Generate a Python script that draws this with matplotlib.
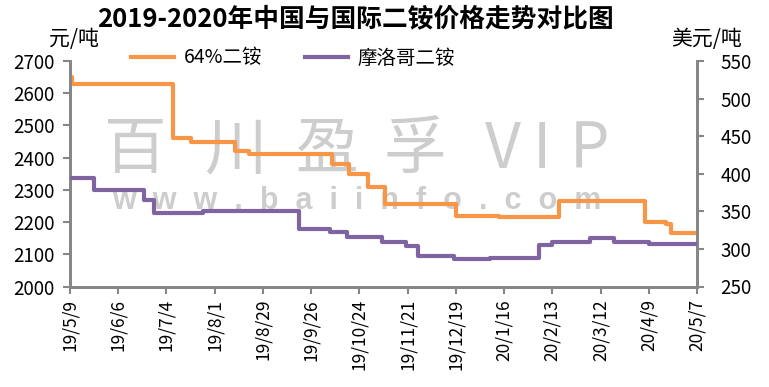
import datetime as dt
import matplotlib
matplotlib.use('Agg')
import matplotlib.pyplot as plt
from matplotlib.lines import Line2D

plt.rcParams['font.family'] = ['Noto Sans CJK SC', 'DejaVu Sans']

# 64%二铵 (元/吨) - step changes
dap_cn_dates = ['2019-05-09', '2019-05-10', '2019-07-08', '2019-07-18', '2019-08-13',
                '2019-08-21', '2019-10-08', '2019-10-18', '2019-10-29', '2019-11-08',
                '2019-12-19', '2020-01-13', '2020-02-17', '2020-04-07', '2020-04-19',
                '2020-04-22', '2020-05-07']
dap_cn_vals = [2650, 2630, 2460, 2450, 2420, 2410, 2380, 2350, 2310, 2255,
               2220, 2215, 2265, 2200, 2195, 2165, 2165]

# 摩洛哥二铵 (美元/吨)
dap_ma_dates = ['2019-05-09', '2019-05-23', '2019-06-21', '2019-06-27', '2019-07-25',
                '2019-09-19', '2019-10-07', '2019-10-17', '2019-11-06', '2019-11-20',
                '2019-11-27', '2019-12-18', '2020-01-08', '2020-02-05', '2020-02-13',
                '2020-03-06', '2020-03-20', '2020-04-09', '2020-05-07']
dap_ma_vals = [395, 379, 365, 348, 350, 326, 323, 316, 309, 304,
               291, 287, 288, 305, 309, 315, 309, 307, 307]

tick_dates = ['2019-05-09', '2019-06-06', '2019-07-04', '2019-08-01', '2019-08-29',
              '2019-09-26', '2019-10-24', '2019-11-21', '2019-12-19', '2020-01-16',
              '2020-02-13', '2020-03-12', '2020-04-09', '2020-05-07']
tick_labels = ['19/5/9', '19/6/6', '19/7/4', '19/8/1', '19/8/29', '19/9/26', '19/10/24',
               '19/11/21', '19/12/19', '20/1/16', '20/2/13', '20/3/12', '20/4/9', '20/5/7']

to_d = lambda s: dt.datetime.strptime(s, '%Y-%m-%d')

W, H = 769, 387
fig = plt.figure(figsize=(W / 100, H / 100), dpi=100)
ax = fig.add_axes([70 / W, 1 - 286.5 / H, 627 / W, 225.5 / H])
ax2 = ax.twinx()

orange = '#F79646'
purple = '#8064A2'
grey = '#868686'

ax.step([to_d(s) for s in dap_cn_dates], dap_cn_vals, where='post', color=orange, lw=3, zorder=3)
ax2.step([to_d(s) for s in dap_ma_dates], dap_ma_vals, where='post', color=purple, lw=3, zorder=3)

ax.set_ylim(2000, 2700)
ax.set_yticks(range(2000, 2701, 100))
ax2.set_ylim(250, 550)
ax2.set_yticks(range(250, 551, 50))
ax.set_xlim(to_d(tick_dates[0]), to_d(tick_dates[-1]))
ax.set_xticks([to_d(s) for s in tick_dates])
ax.set_xticklabels(tick_labels, rotation=90)

for a in (ax, ax2):
    a.spines['top'].set_visible(False)
    for s in ('left', 'right', 'bottom'):
        a.spines[s].set_color(grey)
        a.spines[s].set_linewidth(2)
    a.tick_params(axis='both', colors=grey, width=1.5, length=5, labelcolor='black', labelsize=13.5)
ax.tick_params(axis='y', pad=6)
ax2.tick_params(axis='y', pad=12)
ax.tick_params(axis='x', labelsize=12.5, pad=4)

# watermark
for ch, x in [('百', 135), ('川', 235), ('盈', 327), ('孚', 415), ('V', 503), ('I', 542), ('P', 590)]:
    ax.text(x / W, 1 - 150 / H, ch, transform=fig.transFigure, fontsize=45,
            color='#cdcdcd', fontweight='light', ha='center', va='center', zorder=0)
ax.text(357 / W, 1 - 201 / H, '  '.join('www.baiinfo.com'), transform=fig.transFigure,
        fontsize=22, fontweight='bold', family='Liberation Sans', color='#cdcdcd',
        ha='center', va='center', zorder=0)

fig.text(355 / W, 1 - 19 / H, '2019-2020年中国与国际二铵价格走势对比图',
         fontsize=18.5, fontweight='bold', ha='center', va='center')
fig.text(74 / W, 1 - 39 / H, '元/吨', fontsize=15, ha='center', va='center')
fig.text(707 / W, 1 - 39 / H, '美元/吨', fontsize=15, ha='center', va='center')

handles = [Line2D([], [], color=orange, lw=3), Line2D([], [], color=purple, lw=3)]
fig.legend(handles, ['64%二铵', '摩洛哥二铵'], ncol=2, frameon=False, fontsize=14,
           loc='center', bbox_to_anchor=(293 / W, 1 - 58 / H),
           handlelength=2.2, handletextpad=0.5, columnspacing=2.2)

fig.savefig('out.png', dpi=100)
